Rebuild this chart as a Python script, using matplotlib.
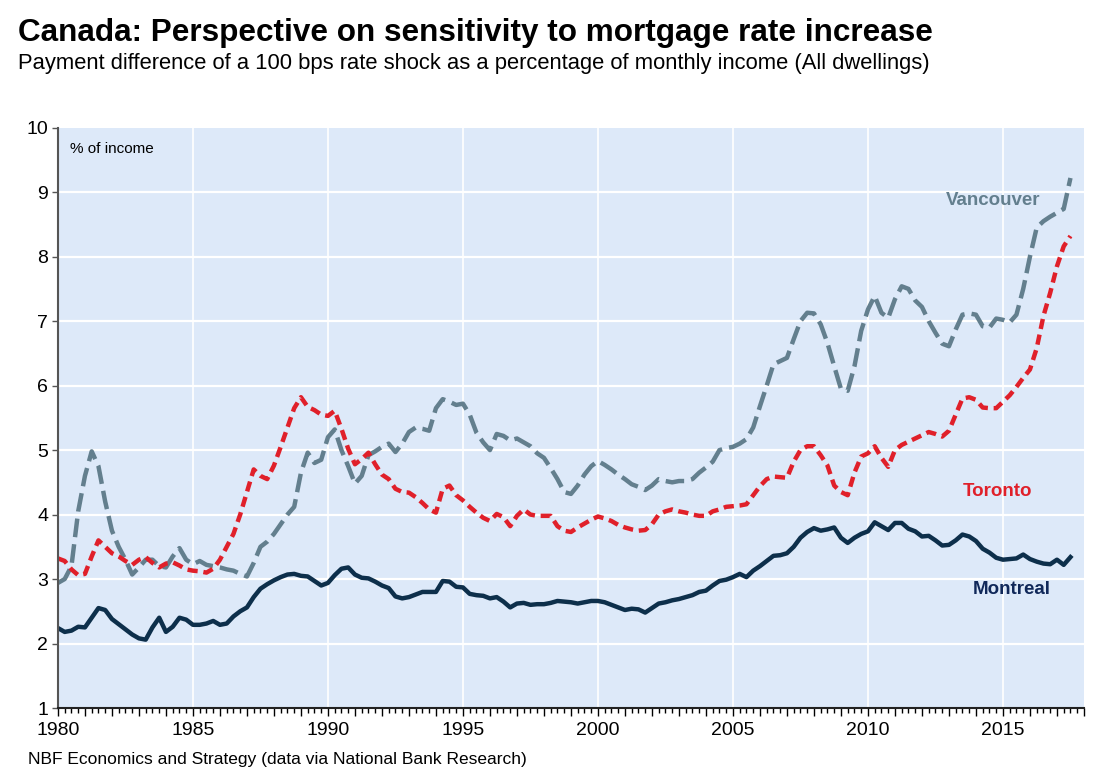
import matplotlib
matplotlib.use("Agg")
import matplotlib.pyplot as plt
from matplotlib.ticker import MultipleLocator, FuncFormatter
import numpy as np

plt.rcParams['font.family'] = ['Liberation Sans', 'DejaVu Sans']

# quarterly data, 1980Q1 .. 2017Q3
start_year = 1980
vancouver = [
    2.94, 3.00, 3.20, 4.05,  4.60, 4.98, 4.75, 4.20,  3.75, 3.50, 3.30, 3.07,
    3.18, 3.30, 3.30, 3.20,  3.18, 3.35, 3.48, 3.30,  3.23, 3.28, 3.22, 3.20,
    3.18, 3.15, 3.13, 3.08,  3.04, 3.25, 3.50, 3.58,  3.70, 3.85, 4.00, 4.12,
    4.65, 4.96, 4.80, 4.85,  5.20, 5.32, 5.00, 4.75,  4.48, 4.60, 4.92, 4.98,
    5.05, 5.10, 4.97, 5.10,  5.28, 5.35, 5.33, 5.30,  5.65, 5.79, 5.75, 5.70,
    5.72, 5.55, 5.27, 5.12,  5.00, 5.25, 5.22, 5.15,  5.18, 5.12, 5.06, 4.95,
    4.88, 4.72, 4.55, 4.35,  4.32, 4.45, 4.62, 4.75,  4.83, 4.77, 4.70, 4.62,
    4.55, 4.47, 4.43, 4.38,  4.45, 4.55, 4.52, 4.50,  4.52, 4.52, 4.55, 4.65,
    4.73, 4.82, 5.00, 5.03,  5.05, 5.10, 5.17, 5.35,  5.68, 6.00, 6.33, 6.38,
    6.43, 6.72, 7.00, 7.13,  7.12, 6.95, 6.66, 6.30,  5.95, 5.92, 6.30, 6.85,
    7.18, 7.39, 7.13, 7.05,  7.34, 7.54, 7.50, 7.32,  7.22, 7.00, 6.82, 6.65,
    6.61, 6.87, 7.10, 7.12,  7.10, 6.92, 6.90, 7.04,  7.02, 6.98, 7.10, 7.50,
    8.00, 8.45, 8.55, 8.62,  8.68, 8.74, 9.22,
]
toronto = [
    3.32, 3.28, 3.15, 3.06,  3.08, 3.35, 3.60, 3.50,  3.40, 3.35, 3.28, 3.22,
    3.30, 3.34, 3.25, 3.18,  3.24, 3.26, 3.21, 3.15,  3.13, 3.12, 3.10, 3.16,
    3.30, 3.50, 3.70, 4.00,  4.35, 4.70, 4.60, 4.55,  4.76, 5.05, 5.35, 5.65,
    5.82, 5.67, 5.62, 5.55,  5.53, 5.61, 5.33, 5.02,  4.78, 4.86, 4.96, 4.78,
    4.62, 4.55, 4.40, 4.35,  4.34, 4.27, 4.18, 4.08,  4.03, 4.40, 4.45, 4.30,
    4.22, 4.12, 4.03, 3.95,  3.90, 4.01, 3.96, 3.82,  3.98, 4.08, 4.00, 3.98,
    3.98, 3.98, 3.82, 3.75,  3.73, 3.80, 3.86, 3.92,  3.97, 3.94, 3.90, 3.84,
    3.80, 3.77, 3.75, 3.76,  3.85, 4.00, 4.05, 4.08,  4.05, 4.03, 4.00, 3.98,
    3.98, 4.05, 4.08, 4.12,  4.13, 4.14, 4.16, 4.30,  4.44, 4.55, 4.59, 4.58,
    4.57, 4.82, 5.00, 5.06,  5.06, 4.92, 4.76, 4.45,  4.35, 4.30, 4.65, 4.90,
    4.95, 5.06, 4.88, 4.74,  5.00, 5.08, 5.13, 5.18,  5.23, 5.28, 5.25, 5.21,
    5.30, 5.55, 5.80, 5.82,  5.78, 5.66, 5.65, 5.65,  5.75, 5.85, 5.98, 6.12,
    6.25, 6.58, 7.08, 7.44,  7.85, 8.16, 8.32,
]
montreal = [
    2.24, 2.18, 2.20, 2.26,  2.25, 2.40, 2.55, 2.52,  2.38, 2.30, 2.22, 2.14,
    2.08, 2.06, 2.25, 2.40,  2.18, 2.26, 2.40, 2.37,  2.29, 2.29, 2.31, 2.35,
    2.29, 2.31, 2.42, 2.50,  2.56, 2.72, 2.85, 2.92,  2.98, 3.03, 3.07, 3.08,
    3.05, 3.04, 2.97, 2.90,  2.94, 3.06, 3.16, 3.18,  3.07, 3.02, 3.01, 2.96,
    2.90, 2.86, 2.73, 2.70,  2.72, 2.76, 2.80, 2.80,  2.80, 2.97, 2.96, 2.88,
    2.87, 2.77, 2.75, 2.74,  2.70, 2.72, 2.65, 2.56,  2.62, 2.63, 2.60, 2.61,
    2.61, 2.63, 2.66, 2.65,  2.64, 2.62, 2.64, 2.66,  2.66, 2.64, 2.60, 2.56,
    2.52, 2.54, 2.53, 2.48,  2.55, 2.62, 2.64, 2.67,  2.69, 2.72, 2.75, 2.80,
    2.82, 2.90, 2.97, 2.99,  3.03, 3.08, 3.03, 3.13,  3.20, 3.28, 3.36, 3.37,
    3.40, 3.50, 3.64, 3.73,  3.79, 3.75, 3.77, 3.80,  3.64, 3.56, 3.64, 3.70,
    3.74, 3.88, 3.82, 3.76,  3.87, 3.87, 3.78, 3.74,  3.66, 3.67, 3.60, 3.52,
    3.53, 3.60, 3.69, 3.66,  3.59, 3.47, 3.41, 3.33,  3.30, 3.31, 3.32, 3.38,
    3.31, 3.27, 3.24, 3.23,  3.30, 3.22, 3.34,
]
dates = start_year + np.arange(len(vancouver)) * 0.25

c_van = '#637f8e'
c_tor = '#e0202a'
c_mtl = '#0d2f4b'

fig = plt.figure(figsize=(11.08, 7.8), dpi=100)
ax = fig.add_axes([0.0523, 0.0923, 0.926, 0.744])
ax.set_facecolor('#dde9f9')

ax.plot(dates, vancouver, color=c_van, lw=3.2, dashes=(4.2, 1.6), solid_capstyle='butt')
ax.plot(dates, toronto, color=c_tor, lw=3.2, dashes=(2.3, 1.3))
ax.plot(dates, montreal, color=c_mtl, lw=3.2, solid_joinstyle='round')

ax.set_xlim(1980, 2018)
ax.set_ylim(1, 10)
ax.yaxis.set_major_locator(MultipleLocator(1))
ax.xaxis.set_major_locator(MultipleLocator(1))
ax.xaxis.set_minor_locator(MultipleLocator(0.25))
ax.xaxis.set_major_formatter(FuncFormatter(lambda v, p: f'{int(round(v))}' if round(v) % 5 == 0 else ''))

for yv in range(2, 10):
    ax.axhline(yv, color='white', lw=1.6, zorder=0.5)
for xv in range(1985, 2018, 5):
    ax.axvline(xv, color='white', lw=1.2, zorder=0.5)

for s in ['top', 'right']:
    ax.spines[s].set_visible(False)
ax.spines['left'].set_color('#555555')
ax.spines['left'].set_linewidth(1.5)
ax.spines['bottom'].set_color('#222222')
ax.spines['bottom'].set_linewidth(1.5)
ax.tick_params(axis='y', length=4, width=1, labelsize=14, pad=3, color='#555555')
ax.tick_params(axis='x', which='major', length=6, width=1, labelsize=14, pad=4)
ax.tick_params(axis='x', which='minor', length=3.5, width=1)

ax.text(0.012, 0.975, '% of income', transform=ax.transAxes, fontsize=11, va='top', ha='left')
ax.text(2014.63, 8.87, 'Vancouver', color=c_van, fontsize=13.5, fontweight='bold', ha='center', va='center')
ax.text(2014.8, 4.36, 'Toronto', color=c_tor, fontsize=13.5, fontweight='bold', ha='center', va='center')
ax.text(2015.33, 2.84, 'Montreal', color='#10285a', fontsize=13.5, fontweight='bold', ha='center', va='center')

fig.text(0.016, 0.958, 'Canada: Perspective on sensitivity to mortgage rate increase',
         fontsize=22.7, fontweight='bold', va='center', ha='left')
fig.text(0.016, 0.918, 'Payment difference of a 100 bps rate shock as a percentage of monthly income (All dwellings)',
         fontsize=15.8, va='center', ha='left')
fig.text(0.025, 0.026, 'NBF Economics and Strategy (data via National Bank Research)',
         fontsize=12.5, va='center', ha='left')

fig.savefig('out.png', dpi=100)
